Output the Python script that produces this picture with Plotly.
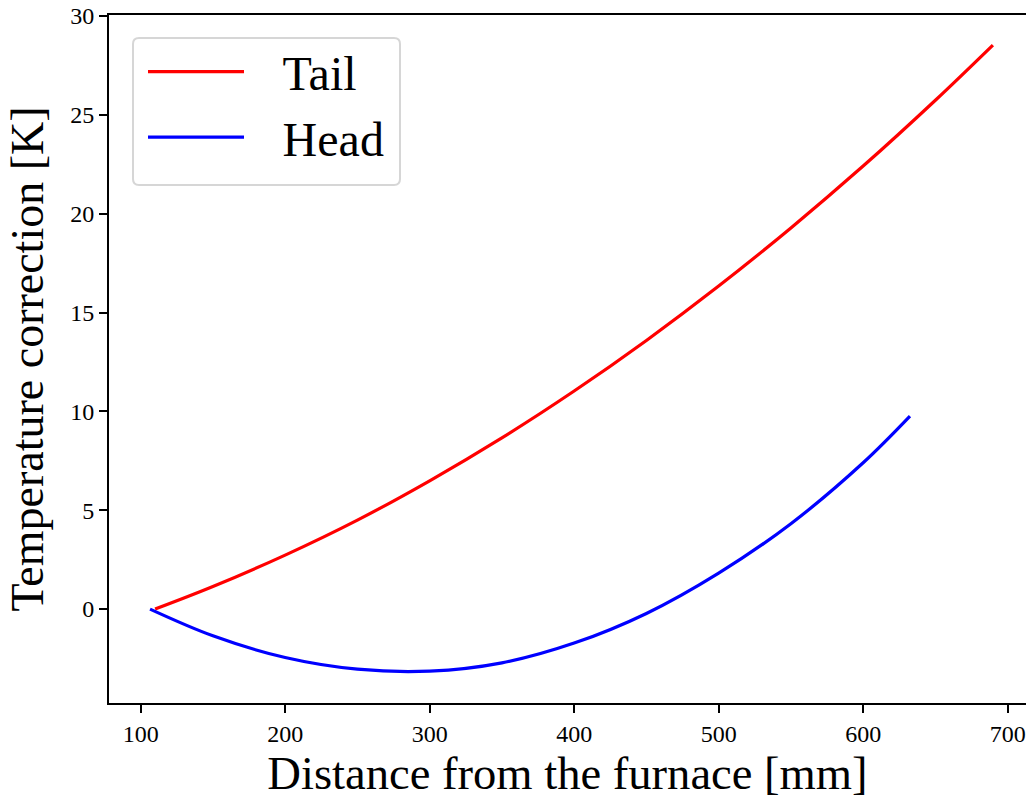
import plotly.graph_objects as go

# Data
tail_x = [110, 150, 200, 250, 300, 350, 400, 450, 500, 550, 600, 650, 689.8]
tail_y = [0.0, 1.14, 2.73, 4.5, 6.49, 8.66, 11.03, 13.59, 16.34, 19.28, 22.41, 25.74, 28.53]

head_x = [106.5, 150, 200, 250, 300, 350, 400, 450, 500, 550, 600, 632.4]
head_y = [0.0, -1.35, -2.45, -3.04, -3.14, -2.72, -1.72, -0.22, 1.82, 4.32, 7.4, 9.76]

x_ticks = [100, 200, 300, 400, 500, 600, 700]
y_ticks = [0, 5, 10, 15, 20, 25, 30]

FONT = "Liberation Serif, Times New Roman, serif"

W, H = 1026, 799
ML, MR, MT, MB = 109, 0, 15, 96
PW, PH = W - ML - MR, H - MT - MB


def px_to_paper(px, py):
    return (px - ML) / PW, 1 - (py - MT) / PH


fig = go.Figure()
fig.add_trace(go.Scatter(x=tail_x, y=tail_y, mode="lines", name="\u00a0\u00a0\u2009Tail",
                         line=dict(color="#ff0000", width=3.2, shape="spline", smoothing=1.0),
                         legendgroup="a"))
fig.add_trace(go.Scatter(x=head_x, y=head_y, mode="lines", name="\u00a0\u00a0\u2009Head",
                         line=dict(color="#0000ff", width=3.2, shape="spline", smoothing=1.0),
                         legendgroup="b"))

# rounded legend frame (matplotlib style)
bl, bt, br, bb, r = 133, 38, 400, 185, 6
x0, y0 = px_to_paper(bl, bt)
x1, y1 = px_to_paper(br, bb)
rx = r / PW
ry = r / PH
path = (f"M {x0+rx},{y0} L {x1-rx},{y0} Q {x1},{y0} {x1},{y0-ry} "
        f"L {x1},{y1+ry} Q {x1},{y1} {x1-rx},{y1} "
        f"L {x0+rx},{y1} Q {x0},{y1} {x0},{y1+ry} "
        f"L {x0},{y0-ry} Q {x0},{y0} {x0+rx},{y0} Z")
fig.add_shape(type="path", path=path, xref="paper", yref="paper",
              line=dict(color="#d6d6d6", width=2), fillcolor="rgba(255,255,255,0.8)",
              layer="above")

lx, ly = px_to_paper(143, 34)

fig.update_layout(
    width=W, height=H,
    margin=dict(l=ML, r=MR, t=MT, b=MB),
    paper_bgcolor="white", plot_bgcolor="white",
    font=dict(family=FONT, color="black"),
    showlegend=True,
    legend=dict(
        x=lx, y=ly, xanchor="left", yanchor="top",
        font=dict(family=FONT, size=48, color="black"),
        bgcolor="rgba(0,0,0,0)",
        borderwidth=0,
        tracegroupgap=0, itemwidth=96,
    ),
    xaxis=dict(
        range=[78.1, 712.7],
        tickvals=x_ticks, ticktext=[str(v) for v in x_ticks],
        ticks="outside", ticklen=8, tickwidth=2, tickcolor="black",
        showline=True, linewidth=2, linecolor="black", mirror=True,
        showgrid=False, zeroline=False,
        tickfont=dict(family=FONT, size=24, color="black"),
        title=dict(text="Distance from the furnace [mm]",
                   font=dict(family=FONT, size=46.6, color="black"),
                   standoff=6),
    ),
    yaxis=dict(
        range=[-4.75, 30.05],
        tickvals=y_ticks, ticktext=[str(v) for v in y_ticks],
        ticks="outside", ticklen=8, tickwidth=2, tickcolor="black",
        showline=True, linewidth=2, linecolor="black", mirror=False,
        showgrid=False, zeroline=False,
        tickfont=dict(family=FONT, size=24, color="black"),
        title=dict(text="Temperature correction [K]",
                   font=dict(family=FONT, size=46, color="black"),
                   standoff=12),
    ),
)

fig.write_html("out.html")
